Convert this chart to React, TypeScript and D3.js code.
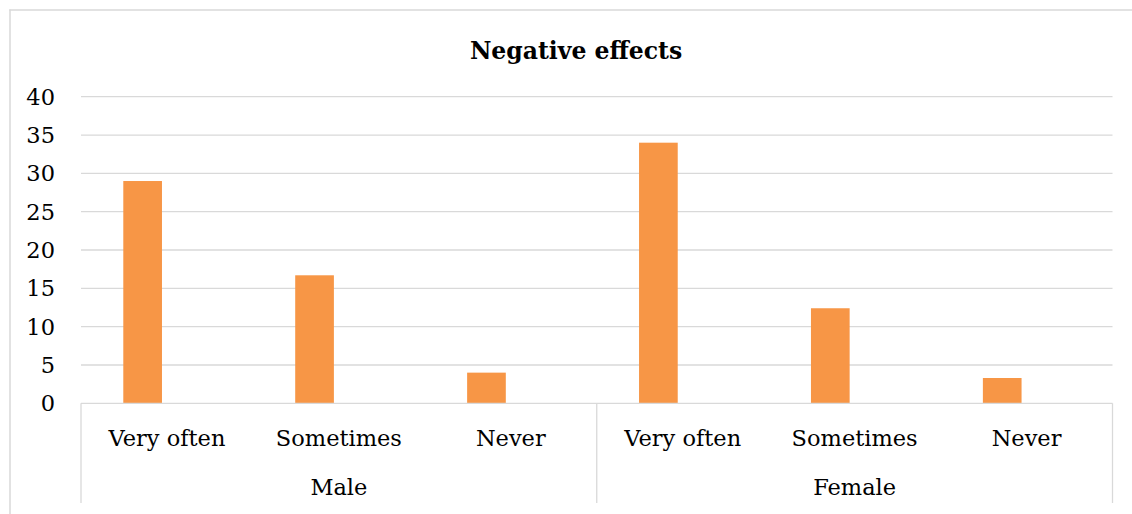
import React from "react";
import * as d3 from "d3";

// Responses per gender group
const groups = ["Male", "Female"];
const answers = ["Very often", "Sometimes", "Never"];
const maleValues = [29, 16.7, 4];
const femaleValues = [34, 12.4, 3.3];
const yTicks = [0, 5, 10, 15, 20, 25, 30, 35, 40];
const title = "Negative effects";

const W = 1132;
const H = 514;
const FONT = "'DejaVu Serif', serif";

export default function App() {
  const left = 81;
  const right = 1112.5;
  const top = 96.7;
  const bottom = 403.3;

  const rows = groups.flatMap((g, gi) =>
    answers.map((a, ai) => ({
      key: `${g}|${a}`,
      group: g,
      answer: a,
      value: (gi === 0 ? maleValues : femaleValues)[ai],
    }))
  );

  const x = d3
    .scaleBand<string>()
    .domain(rows.map((r) => r.key))
    .range([left, right])
    .padding(0);
  const y = d3.scaleLinear().domain([0, 40]).range([bottom, top]);
  const bw = x.bandwidth();
  const groupWidth = bw * answers.length;

  const grid = "#d9d9d9";

  return (
    <svg
      width={W}
      height={H}
      style={{ position: "absolute", left: 0, top: 0, background: "#fff" }}
    >
      {/* chart frame */}
      <line x1={10} y1={514} x2={10} y2={9.5} stroke={grid} strokeWidth={1.5} />
      <line x1={9.3} y1={10} x2={1132} y2={10} stroke={grid} strokeWidth={1.5} />

      <text
        x={576}
        y={58.5}
        textAnchor="middle"
        fontFamily={FONT}
        fontWeight="bold"
        fontSize={23.5}
        fill="#000"
      >
        {title}
      </text>

      {/* gridlines and y labels */}
      {yTicks.map((t) => (
        <g key={t}>
          {t !== 0 && (
            <line x1={left} x2={right} y1={y(t)} y2={y(t)} stroke={grid} strokeWidth={1.3} />
          )}
          <text
            x={55}
            y={y(t)}
            dy="0.36em"
            textAnchor="end"
            fontFamily={FONT}
            fontSize={22.5}
            fill="#000"
          >
            {t}
          </text>
        </g>
      ))}

      {/* bars */}
      {rows.map((r) => (
        <rect
          key={r.key}
          x={(x(r.key) as number) + bw * 0.246}
          width={bw * 0.225}
          y={y(r.value)}
          height={bottom - y(r.value)}
          fill="#f79646"
        />
      ))}

      {/* category axis */}
      <line x1={left} x2={right} y1={bottom} y2={bottom} stroke={grid} strokeWidth={1.3} />
      {groups.map((g, gi) => {
        const x0 = left + gi * groupWidth;
        return (
          <line key={g} x1={x0} x2={x0} y1={bottom} y2={503} stroke={grid} strokeWidth={1.3} />
        );
      })}
      <line x1={right} x2={right} y1={bottom} y2={503} stroke={grid} strokeWidth={1.3} />

      {rows.map((r) => (
        <text
          key={`l-${r.key}`}
          x={(x(r.key) as number) + bw / 2}
          y={446}
          textAnchor="middle"
          fontFamily={FONT}
          fontSize={22.5}
          fill="#000"
        >
          {r.answer}
        </text>
      ))}
      {groups.map((g, gi) => (
        <text
          key={`g-${g}`}
          x={left + gi * groupWidth + groupWidth / 2}
          y={495}
          textAnchor="middle"
          fontFamily={FONT}
          fontSize={22.5}
          fill="#000"
        >
          {g}
        </text>
      ))}
    </svg>
  );
}
